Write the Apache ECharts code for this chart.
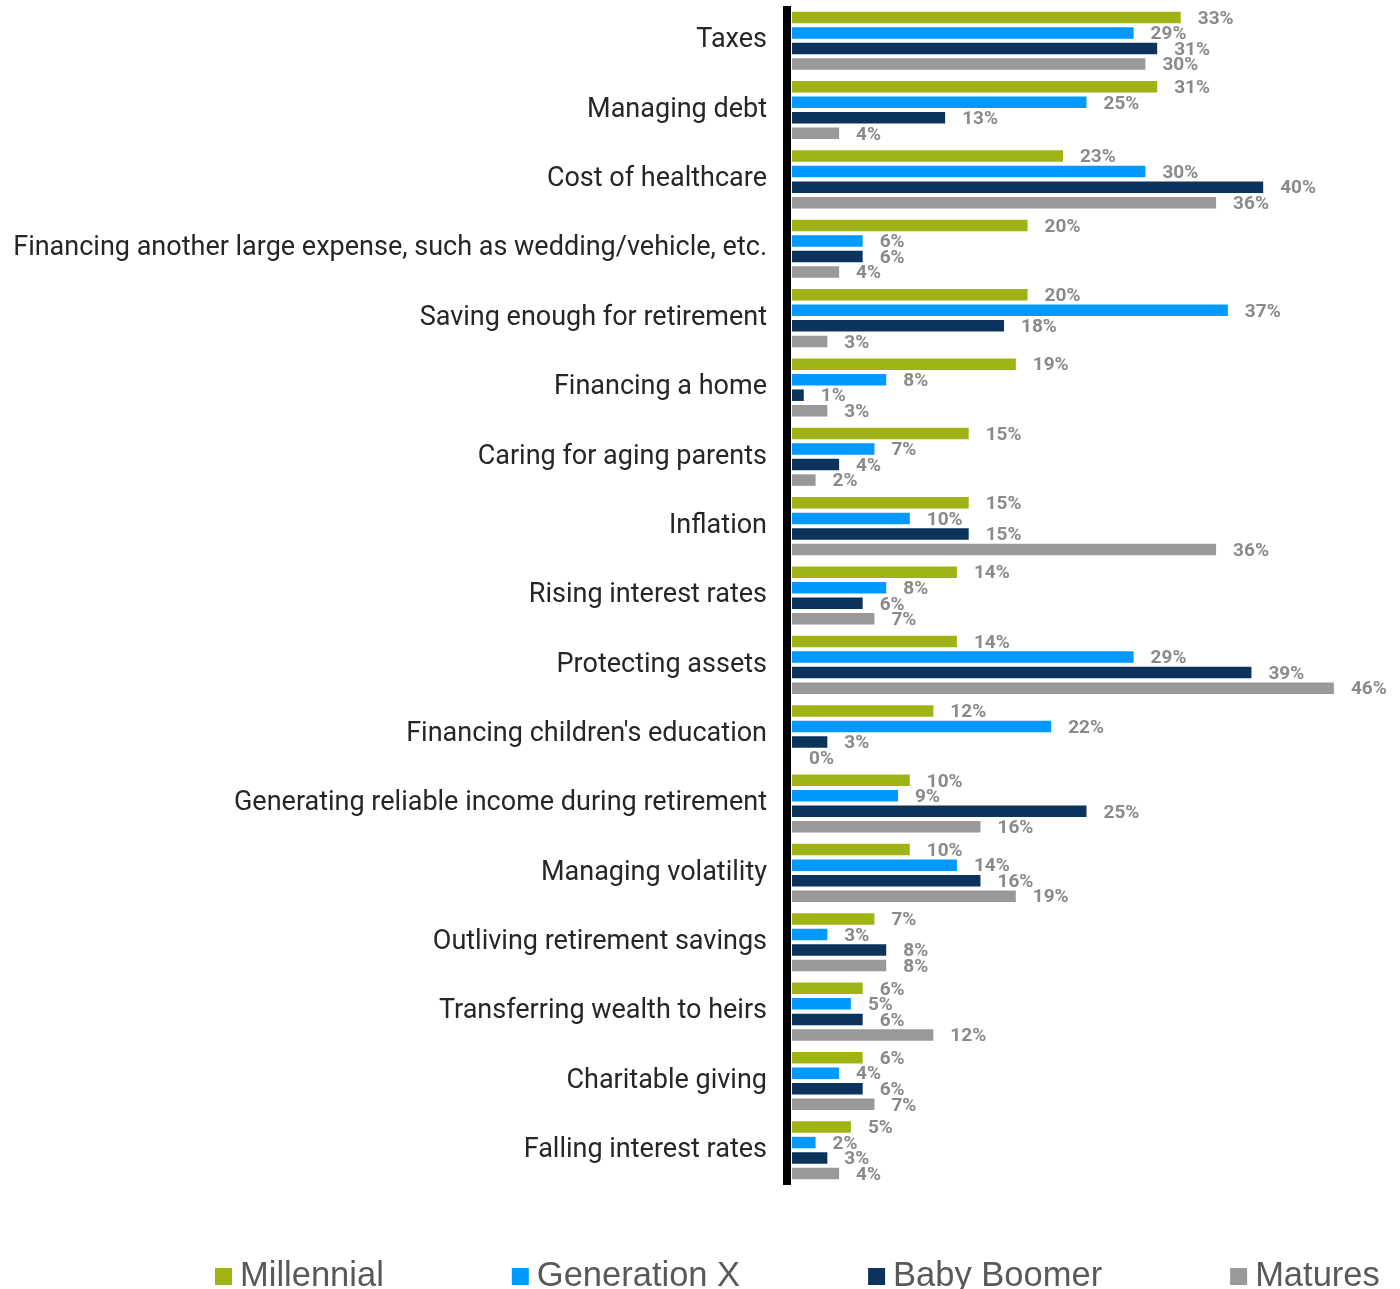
<!DOCTYPE html>
<html>
<head>
<meta charset="utf-8">
<script src="https://cdn.jsdelivr.net/npm/echarts@6/dist/echarts.min.js"></script>
<style>
html,body{margin:0;padding:0;background:#fff;}
#chart{width:1400px;height:1289px;}
</style>
</head>
<body>
<div id="chart"></div>
<script>
var categories = [
  "Taxes",
  "Managing debt",
  "Cost of healthcare",
  "Financing another large expense, such as wedding/vehicle, etc.",
  "Saving enough for retirement",
  "Financing a home",
  "Caring for aging parents",
  "Inflation",
  "Rising interest rates",
  "Protecting assets",
  "Financing children's education",
  "Generating reliable income during retirement",
  "Managing volatility",
  "Outliving retirement savings",
  "Transferring wealth to heirs",
  "Charitable giving",
  "Falling interest rates"
];
var millennial  = [33, 31, 23, 20, 20, 19, 15, 15, 14, 14, 12, 10, 10, 7, 6, 6, 5];
var generationX = [29, 25, 30, 6, 37, 8, 7, 10, 8, 29, 22, 9, 14, 3, 5, 4, 2];
var babyBoomer  = [31, 13, 40, 6, 18, 1, 4, 15, 6, 39, 3, 25, 16, 8, 6, 6, 3];
var matures     = [30, 4, 36, 4, 3, 3, 2, 36, 7, 46, 0, 16, 19, 8, 12, 7, 4];

var seriesNames = ["Millennial", "Generation X", "Baby Boomer", "Matures"];
var seriesColors = ["#9fb414", "#0099ff", "#0b335c", "#999999"];
var seriesData = [millennial, generationX, babyBoomer, matures];

var chart = echarts.init(document.getElementById('chart'), null, {renderer: 'canvas'});

var series = seriesData.map(function (d, i) {
  return {
    name: seriesNames[i],
    type: 'bar',
    data: d,
    barWidth: 11.5,
    barGap: '35%',
    itemStyle: {color: seriesColors[i]},
    label: {
      show: true,
      position: 'right',
      distance: 17,
      offset: [0, 1.5],
      formatter: '{c}%',
      color: '#8a8a8a',
      fontFamily: 'Roboto',
      fontWeight: 'bold',
      fontSize: 19
    }
  };
});

chart.setOption({
  animation: false,
  backgroundColor: '#ffffff',
  grid: {left: 792, top: 6, width: 589, height: 1179, containLabel: false},
  xAxis: {
    type: 'value',
    min: 0,
    max: 50,
    show: false
  },
  yAxis: {
    type: 'category',
    data: categories,
    inverse: true,
    position: 'left',
    offset: 5,
    axisLine: {show: true, onZero: false, lineStyle: {color: '#000000', width: 8, cap: 'butt'}},
    axisTick: {show: false},
    splitLine: {show: false},
    axisLabel: {
      margin: 20,
      color: '#262626',
      fontFamily: 'Roboto',
      fontSize: 27
    }
  },
  legend: {
    data: seriesNames,
    left: 210,
    top: 1254,
    itemWidth: 17,
    itemHeight: 17,
    itemGap: 128,
    icon: 'rect',
    textStyle: {
      color: '#595959',
      fontFamily: 'Liberation Sans',
      fontSize: 34.5,
      padding: [0, 0, 0, 3]
    }
  },
  series: series
});
</script>
</body>
</html>
